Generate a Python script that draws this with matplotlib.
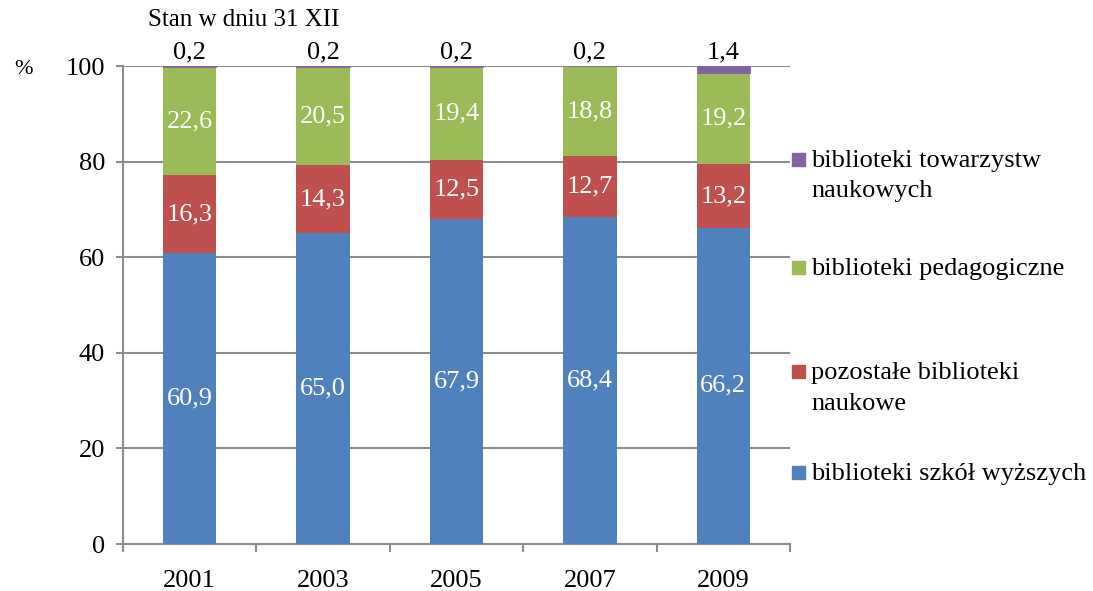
import numpy as np
import matplotlib.pyplot as plt
from matplotlib.patches import Rectangle

plt.rcParams['font.family'] = ['Liberation Serif', 'DejaVu Serif']

lata = ['2001', '2003', '2005', '2007', '2009']
szkoly_wyzsze = [60.9, 65.0, 67.9, 68.4, 66.2]
pozostale = [16.3, 14.3, 12.5, 12.7, 13.2]
pedagogiczne = [22.6, 20.5, 19.4, 18.8, 19.2]
towarzystwa = [0.2, 0.2, 0.2, 0.2, 1.4]

serie = [
    ('biblioteki szkół wyższych', szkoly_wyzsze, '#4F81BD'),
    ('pozostałe biblioteki\nnaukowe', pozostale, '#C0504D'),
    ('biblioteki pedagogiczne', pedagogiczne, '#9BBB59'),
    ('biblioteki towarzystw\nnaukowych', towarzystwa, '#8064A2'),
]

FS = 19

def fmt(v):
    return ('%.1f' % v).replace('.', ',')

fig = plt.figure(figsize=(10.93, 5.91), dpi=100)
ax = fig.add_axes([0.1125, 0.0795, 0.6103, 0.8088])

x = np.arange(len(lata))
dol = np.zeros(len(lata))
for i, (nazwa, wart, kolor) in enumerate(serie):
    wart = np.array(wart)
    ax.bar(x, wart, 0.4, bottom=dol, color=kolor, zorder=3, clip_on=False,
           linewidth=0.6 if i == 3 else 0, edgecolor=kolor)
    for xi, b, v in zip(x, dol, wart):
        if i == 3:
            ax.text(xi, min(b + v, 100) + 0.6, fmt(v), ha='center', va='bottom',
                    fontsize=FS, color='black')
        else:
            ax.text(xi, b + v / 2, fmt(v), ha='center', va='center',
                    fontsize=FS, color='white', zorder=4)
    dol = dol + wart

ax.set_xlim(-0.5, len(lata) - 0.5)
ax.set_ylim(0, 100)
ax.set_yticks([0, 20, 40, 60, 80, 100])
ax.yaxis.grid(True, color='#8c8c8c', linewidth=1.5, zorder=0)
ax.set_xticks(x)
ax.set_xticklabels(lata)
ax.set_xticks(np.arange(-0.5, len(lata)), minor=True)
ax.tick_params(axis='x', which='major', length=0, labelsize=FS, pad=19)
ax.tick_params(axis='x', which='minor', length=6, color='#8c8c8c', width=1.5)
ax.tick_params(axis='y', length=5, color='#8c8c8c', width=1.5, labelsize=FS, pad=8)
for s in ['top', 'right']:
    ax.spines[s].set_visible(False)
for s in ['left', 'bottom']:
    ax.spines[s].set_color('#8c8c8c')
    ax.spines[s].set_linewidth(1.5)

fig.text(14 / 1093, 1 - 70 / 591, '%', fontsize=16, va='center')
fig.text(148 / 1093, 1 - 20 / 591, 'Stan w dniu 31 XII', fontsize=18, va='center')

# legenda
leg_y = {3: 160, 2: 268, 1: 372, 0: 473}
for i, (nazwa, wart, kolor) in enumerate(serie):
    y = leg_y[i]
    fig.patches.append(Rectangle((792 / 1093, 1 - (y + 6) / 591), 13 / 1093, 13 / 591,
                                 transform=fig.transFigure, color=kolor))
    fig.text(811 / 1093, 1 - (y - 10) / 591, nazwa, fontsize=FS, va='top',
             linespacing=1.5)

fig.savefig('out.png', dpi=100)
